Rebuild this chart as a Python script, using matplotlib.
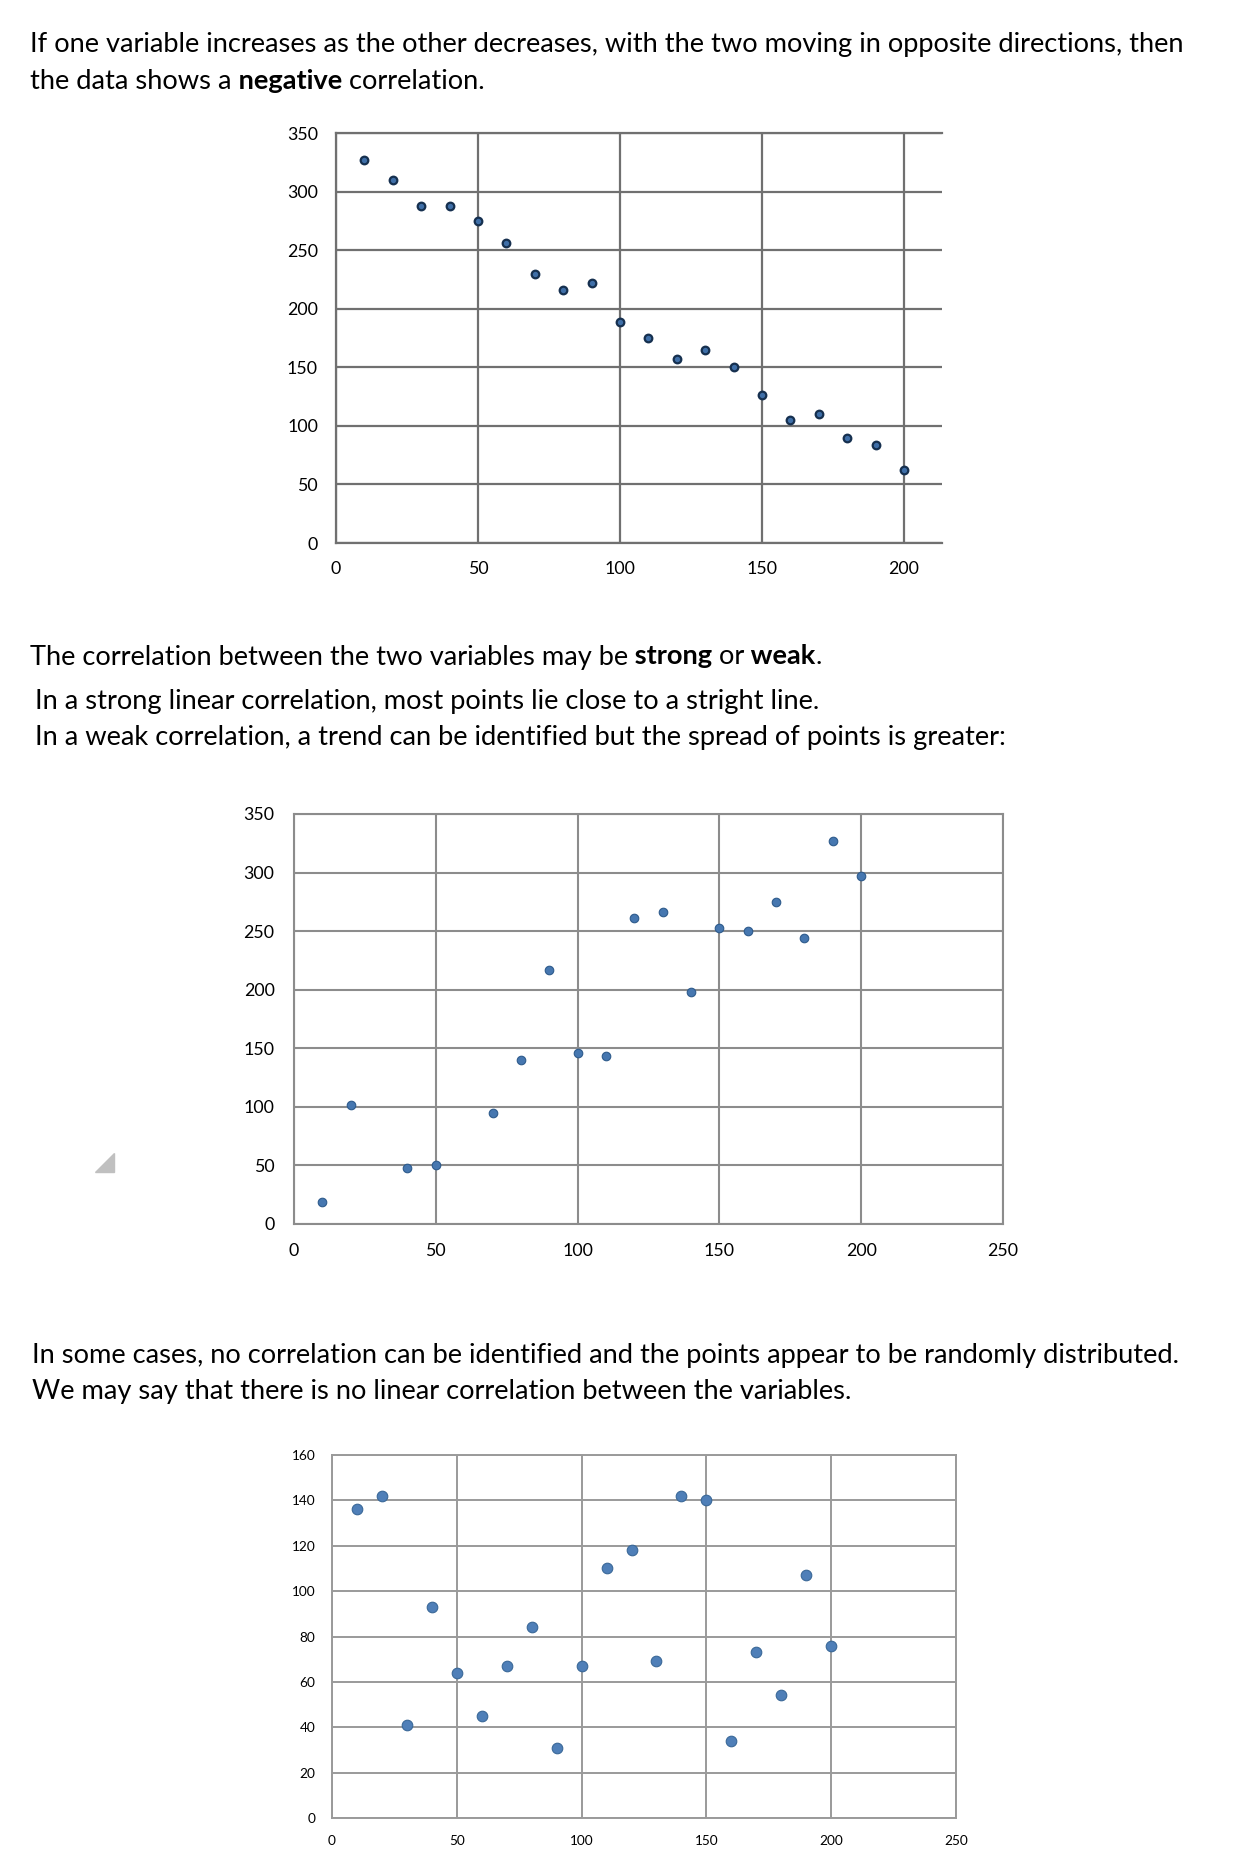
import matplotlib
matplotlib.use('Agg')
import matplotlib.pyplot as plt
from matplotlib.patches import Polygon

plt.rcParams['font.family'] = ['Lato', 'DejaVu Sans']

W, H = 1244, 1871

# negative correlation
neg_x = [10, 20, 30, 40, 50, 60, 70, 80, 90, 100, 110, 120, 130, 140, 150, 160, 170, 180, 190, 200]
neg_y = [327, 310, 288, 288, 275, 256, 230, 216, 222, 189, 175, 157, 165, 150, 126, 105, 110, 90, 84, 62]

# weak positive correlation
weak_x = [10, 20, 40, 50, 70, 80, 90, 100, 110, 120, 130, 140, 150, 160, 170, 180, 190, 200]
weak_y = [19, 102, 48, 50, 95, 140, 217, 146, 143, 261, 266, 198, 253, 250, 275, 244, 327, 297]

# no correlation
none_x = [10, 20, 30, 40, 50, 60, 70, 80, 90, 100, 110, 120, 130, 140, 150, 160, 170, 180, 190, 200]
none_y = [136, 142, 41, 93, 64, 45, 67, 84, 31, 67, 110, 118, 69, 142, 140, 34, 73, 54, 107, 76]

ticks_350 = [0, 50, 100, 150, 200, 250, 300, 350]
ticks_160 = [0, 20, 40, 60, 80, 100, 120, 140, 160]
ticks_x200 = [0, 50, 100, 150, 200]
ticks_x250 = [0, 50, 100, 150, 200, 250]


def box(l, t, r, b):
    # pixel box -> figure fraction
    return [l / W, 1 - b / H, (r - l) / W, (b - t) / H]


fig = plt.figure(figsize=(W / 100, H / 100), dpi=100)
renderer = fig.canvas.get_renderer()

base = fig.add_axes([0, 0, 1, 1])
base.set_axis_off()
base.set_xlim(0, W)
base.set_ylim(H, 0)

BODY = 19.6


def rich(x, y, parts):
    # y is the line centre in pixels, text sits on a common baseline
    yb = y + 9.5
    for s, bold in parts:
        t = base.text(x, yb, s, fontsize=BODY, fontweight='bold' if bold else 'normal',
                      va='baseline', ha='left')
        x += t.get_window_extent(renderer).width


rich(30, 42, [("If one variable increases as the other decreases, with the two moving in opposite directions, then", False)])
rich(30, 79, [("the data shows a", False), (" negative", True), (" correlation.", False)])
rich(30, 655, [("The correlation between the two variables may be", False), (" strong", True),
               (" or", False), (" weak", True), (".", False)])
rich(35, 700, [("In a strong linear correlation, most points lie close to a stright line.", False)])
rich(35, 735, [("In a weak correlation, a trend can be identified but the spread of points is greater:", False)])
rich(32, 1354, [("In some cases, no correlation can be identified and the points appear to be randomly distributed.", False)])
rich(32, 1390, [("We may say that there is no linear correlation between the variables.", False)])

base.add_patch(Polygon([(95, 1172), (114, 1172), (114, 1153)], closed=True, color='#c0c0c0'))

# chart 1
ax1 = fig.add_axes(box(336, 133, 942, 543))
ax1.scatter(neg_x, neg_y, s=30, color='#3f6fa8', edgecolors='#16304f', linewidths=1.6, zorder=3)
ax1.set_xlim(0, 213.4)
ax1.set_ylim(0, 350)
ax1.set_xticks(ticks_x200)
ax1.set_yticks(ticks_350)
ax1.grid(True, color='#707070', linewidth=1.6)
ax1.spines['right'].set_visible(False)
for sp in ['left', 'bottom', 'top']:
    ax1.spines[sp].set_color('#707070')
    ax1.spines[sp].set_linewidth(1.6)
ax1.tick_params(length=0, labelsize=12.8, colors='black')
ax1.tick_params(axis='y', pad=13)
ax1.tick_params(axis='x', pad=13)

# chart 2
ax2 = fig.add_axes(box(294, 814, 1003, 1224))
ax2.scatter(weak_x, weak_y, s=38, color='#4677b0', edgecolors='#2e5b8c', linewidths=0.8, zorder=3)
ax2.set_xlim(0, 250)
ax2.set_ylim(0, 350)
ax2.set_xticks(ticks_x250)
ax2.set_yticks(ticks_350)
ax2.grid(True, color='#8c8c8c', linewidth=1.5)
for sp in ax2.spines.values():
    sp.set_color('#8c8c8c')
    sp.set_linewidth(1.5)
ax2.tick_params(length=0, labelsize=12.8, colors='black')
ax2.tick_params(axis='y', pad=14)
ax2.tick_params(axis='x', pad=14)

# chart 3
ax3 = fig.add_axes(box(332, 1455, 956, 1818))
ax3.scatter(none_x, none_y, s=58, color='#4f7fb8', edgecolors='#3a6898', linewidths=0.8, zorder=3)
ax3.set_xlim(0, 250)
ax3.set_ylim(0, 160)
ax3.set_xticks(ticks_x250)
ax3.set_yticks(ticks_160)
ax3.grid(True, color='#9a9a9a', linewidth=1.4)
for sp in ax3.spines.values():
    sp.set_color('#9a9a9a')
    sp.set_linewidth(1.4)
ax3.tick_params(length=0, labelsize=9.8, colors='black')
ax3.tick_params(axis='y', pad=12)
ax3.tick_params(axis='x', pad=12)

fig.savefig('out.png', dpi=100)
